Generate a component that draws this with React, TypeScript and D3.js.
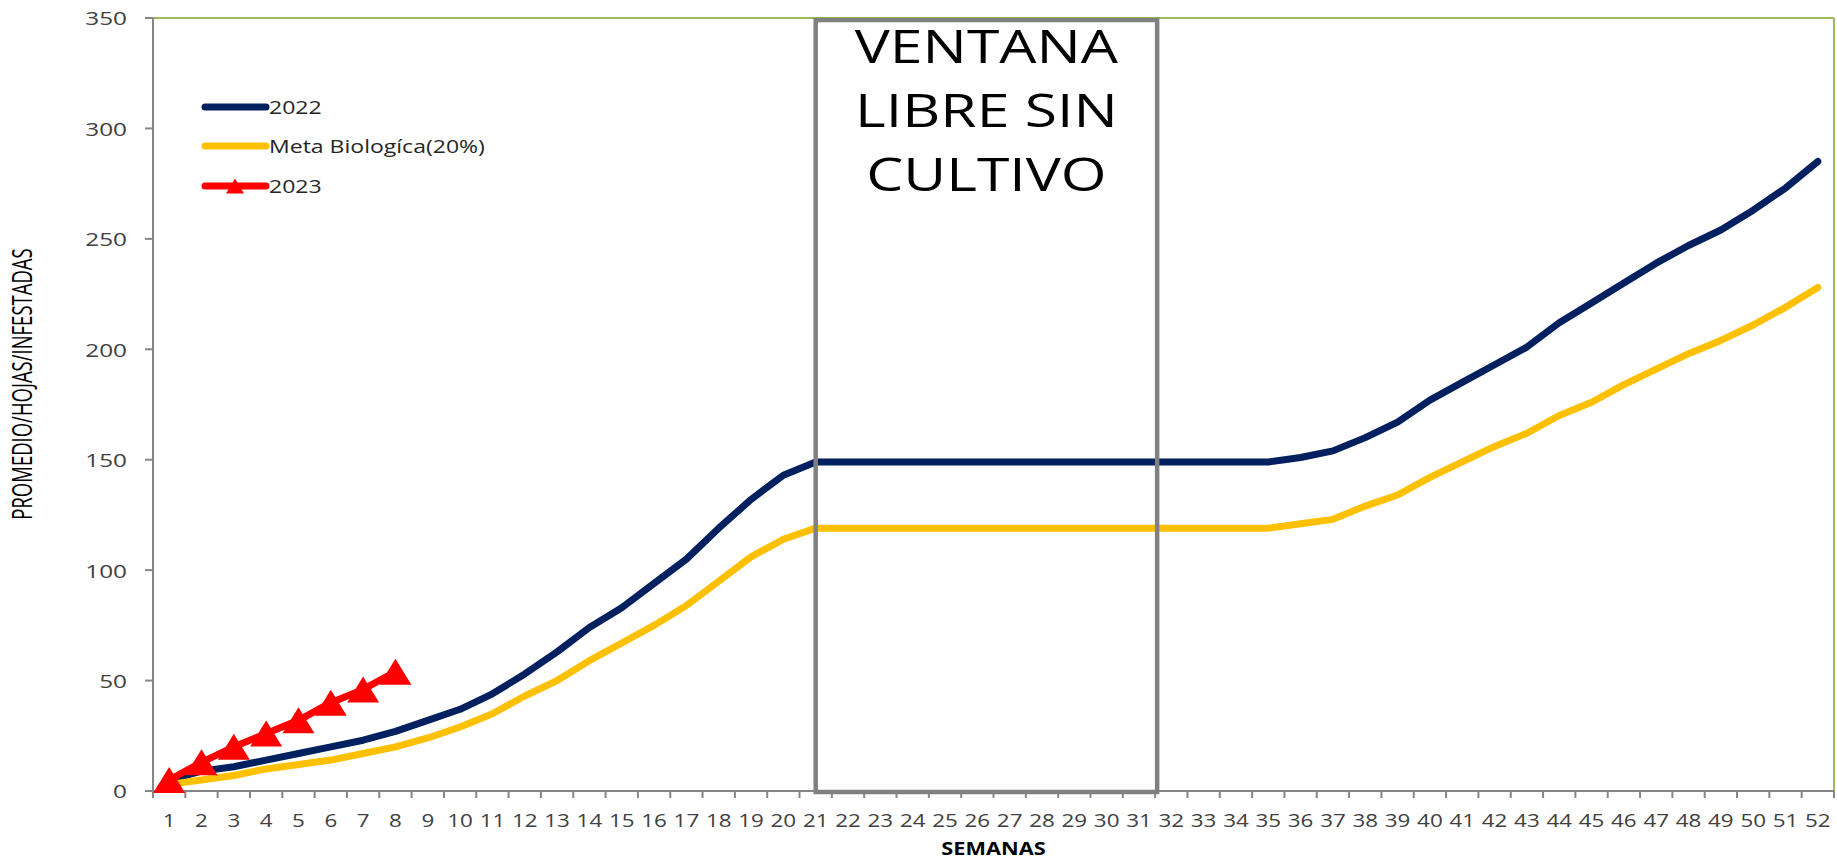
import * as d3 from "d3";

const weeks = d3.range(1, 53);

const serie2022 = [
  5, 9, 11, 14, 17, 20, 23, 27, 32, 37, 44, 53, 63, 74, 83, 94, 105, 119, 132, 143,
  149, 149, 149, 149, 149, 149, 149, 149, 149, 149, 149, 149, 149, 149, 149,
  151, 154, 160, 167, 177, 185, 193, 201, 212, 221, 230, 239, 247, 254, 263, 273, 285,
];

const metaBiologica = [
  3, 5, 7, 10, 12, 14, 17, 20, 24, 29, 35, 43, 50, 59, 67, 75, 84, 95, 106, 114,
  119, 119, 119, 119, 119, 119, 119, 119, 119, 119, 119, 119, 119, 119, 119,
  121, 123, 129, 134, 142, 149, 156, 162, 170, 176, 184, 191, 198, 204, 211, 219, 228,
];

const serie2023 = [5, 13, 20, 26, 32, 40, 46, 54];

const yTicks = [0, 50, 100, 150, 200, 250, 300, 350];

const legendItems = ["2022", "Meta Biologíca(20%)", "2023"];
const windowLines = ["VENTANA", "LIBRE SIN", "CULTIVO"];
const windowWeeks = [21, 31];

const FONT = "'Open Sans', 'DejaVu Sans', sans-serif";
const SX = 1.28; // the source picture is stretched sideways

function Txt({ x, y, rotate = 0, sx = SX, children, ...rest }: any) {
  return (
    <g transform={`translate(${x},${y}) scale(${sx},1) rotate(${rotate})`}>
      <text fontFamily={FONT} {...rest}>
        {children}
      </text>
    </g>
  );
}

export default function App() {
  const width = 1837;
  const height = 862;
  const left = 153;
  const right = 1834;
  const top = 18;
  const bottom = 791;

  const x = d3.scaleBand<number>().domain(weeks).range([left, right]).padding(0);
  const bw = x.bandwidth();
  const cx = (w: number) => (x(w) ?? 0) + bw / 2;
  const y = d3.scaleLinear().domain([0, 350]).range([bottom, top]);

  const line = d3
    .line<number>()
    .x((_, i) => cx(weeks[i]))
    .y((d) => y(d));

  const tri = (w: number, h: number) => `M0,${-h / 2}L${w / 2},${h / 2}L${-w / 2},${h / 2}Z`;

  const legendColors = ["#002060", "#FFC000", "#FF0000"];
  const legendY = [107, 146, 186];

  const boxX0 = cx(windowWeeks[0]);
  const boxX1 = (x(windowWeeks[1]) ?? 0) + bw + 2;
  const boxMid = (boxX0 + boxX1) / 2;

  return (
    <svg
      width={width}
      height={height}
      style={{ position: "absolute", left: 0, top: 0, display: "block", background: "#fff" }}
    >
      {/* plot border (top/right) */}
      <line x1={left} x2={right} y1={top} y2={top} stroke="#9BBB59" strokeWidth={2} />
      <line x1={right} x2={right} y1={top} y2={bottom} stroke="#9BBB59" strokeWidth={2} />

      {/* y axis */}
      <line x1={left} x2={left} y1={top} y2={bottom} stroke="#868686" strokeWidth={2} />
      {yTicks.map((t) => (
        <g key={`y-${t}`}>
          <line x1={left - 8} x2={left} y1={y(t)} y2={y(t)} stroke="#868686" strokeWidth={2} />
          <Txt x={127} y={y(t)} textAnchor="end" dominantBaseline="central" fontSize={19} fill="#404040">
            {t}
          </Txt>
        </g>
      ))}

      {/* x axis */}
      <line x1={left} x2={right} y1={bottom} y2={bottom} stroke="#868686" strokeWidth={2} />
      {weeks.map((w) => (
        <line
          key={`xt-${w}`}
          x1={x(w)}
          x2={x(w)}
          y1={bottom}
          y2={bottom + 7}
          stroke="#868686"
          strokeWidth={2}
        />
      ))}
      <line x1={right} x2={right} y1={bottom} y2={bottom + 7} stroke="#868686" strokeWidth={2} />
      {weeks.map((w) => (
        <Txt key={`xl-${w}`} x={cx(w)} y={827} textAnchor="middle" fontSize={17.5} fill="#404040">
          {w}
        </Txt>
      ))}

      <Txt x={(left + right) / 2} y={855} textAnchor="middle" fontSize={17} fontWeight="bold" fill="#000">
        SEMANAS
      </Txt>
      <Txt x={22} y={384} sx={1.45} rotate={-90} textAnchor="middle" dominantBaseline="central" fontSize={18.5} fill="#000">
        PROMEDIO/HOJAS/INFESTADAS
      </Txt>

      {/* series */}
      <path
        d={line(serie2022) ?? ""}
        fill="none"
        stroke="#002060"
        strokeWidth={7}
        strokeLinecap="round"
        strokeLinejoin="round"
      />
      <path
        d={line(metaBiologica) ?? ""}
        fill="none"
        stroke="#FFC000"
        strokeWidth={7}
        strokeLinecap="round"
        strokeLinejoin="round"
      />
      <path
        d={line(serie2023) ?? ""}
        fill="none"
        stroke="#FF0000"
        strokeWidth={7}
        strokeLinecap="round"
        strokeLinejoin="round"
      />
      {serie2023.map((v, i) => (
        <path
          key={`m-${i}`}
          d={tri(32, 26)}
          transform={`translate(${cx(weeks[i])},${y(v)})`}
          fill="#FF0000"
        />
      ))}

      {/* free window box */}
      <rect
        x={boxX0}
        y={20}
        width={boxX1 - boxX0}
        height={bottom + 1 - 20}
        fill="none"
        stroke="#808080"
        strokeWidth={4.5}
      />
      {windowLines.map((t, i) => (
        <Txt key={t} x={boxMid} y={63 + i * 64} textAnchor="middle" fontSize={46} fill="#000">
          {t}
        </Txt>
      ))}

      {/* legend */}
      {legendItems.map((name, i) => (
        <g key={name}>
          <line
            x1={205}
            x2={266}
            y1={legendY[i]}
            y2={legendY[i]}
            stroke={legendColors[i]}
            strokeWidth={7}
            strokeLinecap="round"
          />
          {i === 2 && (
            <path d={tri(18, 15)} transform={`translate(235,${legendY[i]})`} fill="#FF0000" />
          )}
          <Txt x={269} y={legendY[i]} dominantBaseline="central" fontSize={18} fill="#262626">
            {name}
          </Txt>
        </g>
      ))}
    </svg>
  );
}
